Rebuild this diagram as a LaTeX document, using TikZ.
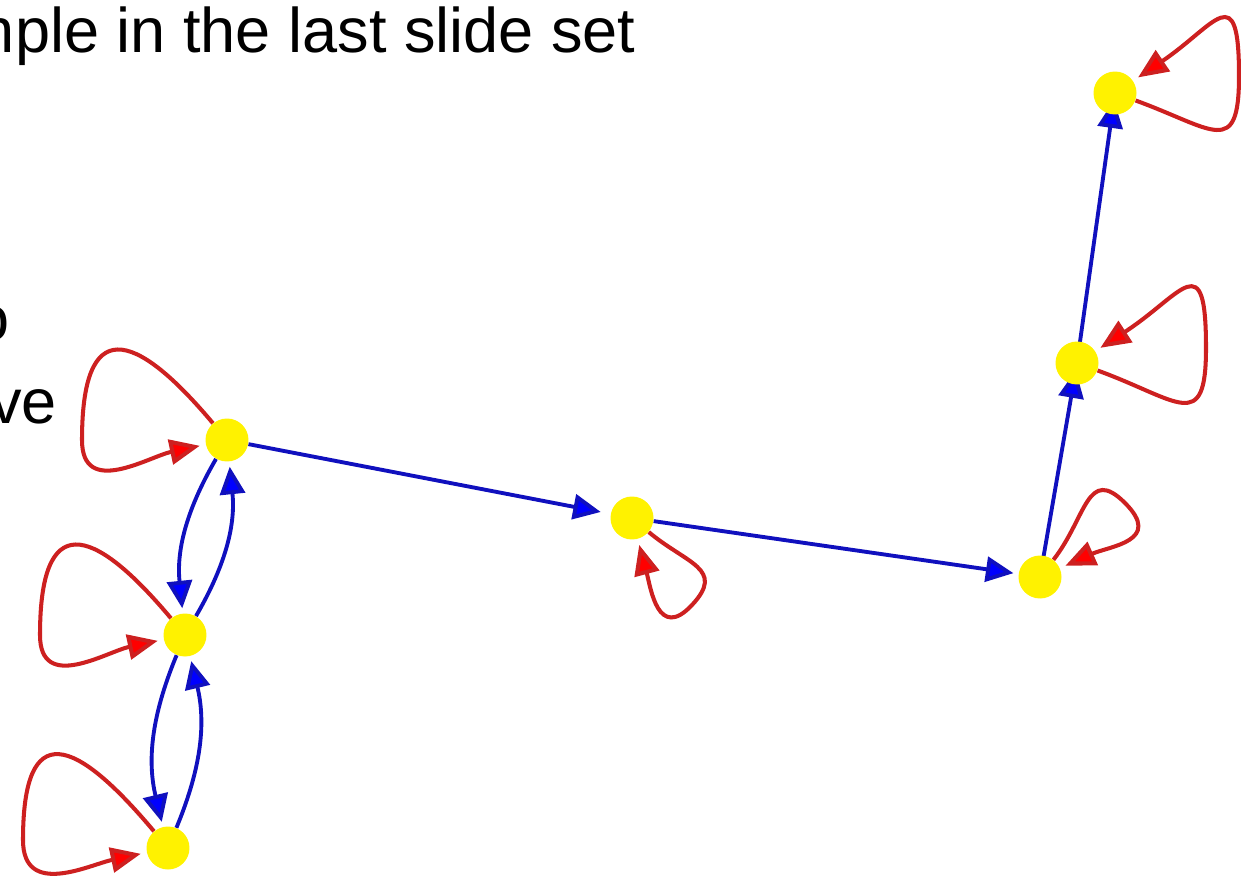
\documentclass[tikz,border=0pt]{standalone}
\usepackage{fontspec}
\setmainfont{Liberation Sans}
\usetikzlibrary{arrows.meta}

\definecolor{loopred}{RGB}{205,32,32}
\definecolor{edgeblue}{RGB}{16,16,190}
\pgfdeclarelayer{back}
\pgfsetlayers{back,main}

\begin{document}
\begin{tikzpicture}[x=0.02cm,y=-0.02cm,
    state/.style={circle, fill=yellow, minimum size=0.86cm, inner sep=0pt},
    selfloop/.style={draw=loopred, line width=2.3pt, -{Triangle[length=0.6cm,width=0.5cm,fill=red]}, shorten >=0.12cm},
    link/.style={draw=edgeblue, line width=2.2pt, -{Triangle[length=0.55cm,width=0.5cm,fill=blue]}},
    slidetext/.style={font=\fontsize{35.9}{43}\selectfont, inner sep=0pt}]

    % Frame
    \useasboundingbox (0,0) rectangle (1241,882);
    \clip (0,0) rectangle (1241,882);

    % Slide text, cut at the left edge
    \node[slidetext, anchor=base east] (title) at (636,53) {nple in the last slide set};
    \node[slidetext, anchor=base east] (lineb) at (10,340) {o};
    \node[slidetext, anchor=base east] (linec) at (57,423) {ve};

    % States
    \node[state] (a) at (227,440) {};
    \node[state] (b) at (185,635) {};
    \node[state] (c) at (168,848) {};
    \node[state] (d) at (632,518) {};
    \node[state] (e) at (1040,577) {};
    \node[state] (f) at (1077,363) {};
    \node[state] (g) at (1115,93) {};

    \begin{pgfonlayer}{back}
        % Transitions
        \draw[link, shorten >=0.2cm] (a) -- (d);
        \draw[link, shorten >=0.1cm] (d) -- (e);
        \draw[link, shorten >=0.15cm] (e.center) -- (f.center);
        \draw[link, shorten >=0.15cm] (f.center) -- (g.center);
        \draw[link, shorten >=0.1cm] (a) to[bend right=18] (b);
        \draw[link, shorten >=0.1cm] (b) to[bend right=18] (a);
        \draw[link, shorten >=0.1cm] (b) to[bend right=18] (c);
        \draw[link, shorten >=0.1cm] (c) to[bend right=18] (b);

        % Self-loops (out to the far side, then back)
        \draw[selfloop] (a) to[out=130, in=90, looseness=2.4] +(-145,0) to[out=-90, in=192, looseness=1.2] (a);
        \draw[selfloop] (b) to[out=130, in=90, looseness=2.4] +(-145,0) to[out=-90, in=192, looseness=1.2] (b);
        \draw[selfloop] (c) to[out=130, in=90, looseness=2.4] +(-145,-8) to[out=-90, in=192, looseness=1.2] (c);
        \draw[selfloop] (d) to[out=-40, in=47, looseness=1.5] +(60,87) to[out=227, in=-75, looseness=1.5] (d);
        \draw[selfloop] (e) to[out=52, in=135, looseness=1.5] +(85,-74) to[out=-45, in=24, looseness=1.5] (e);
        \draw[selfloop] (f) to[out=-20, in=-90, looseness=2] +(129,-15) to[out=90, in=33, looseness=2.4] (f);
        \draw[selfloop] (g) to[out=-20, in=-90, looseness=2] +(124,-17) to[out=90, in=34, looseness=2.4] (g);
    \end{pgfonlayer}
\end{tikzpicture}
\end{document}
